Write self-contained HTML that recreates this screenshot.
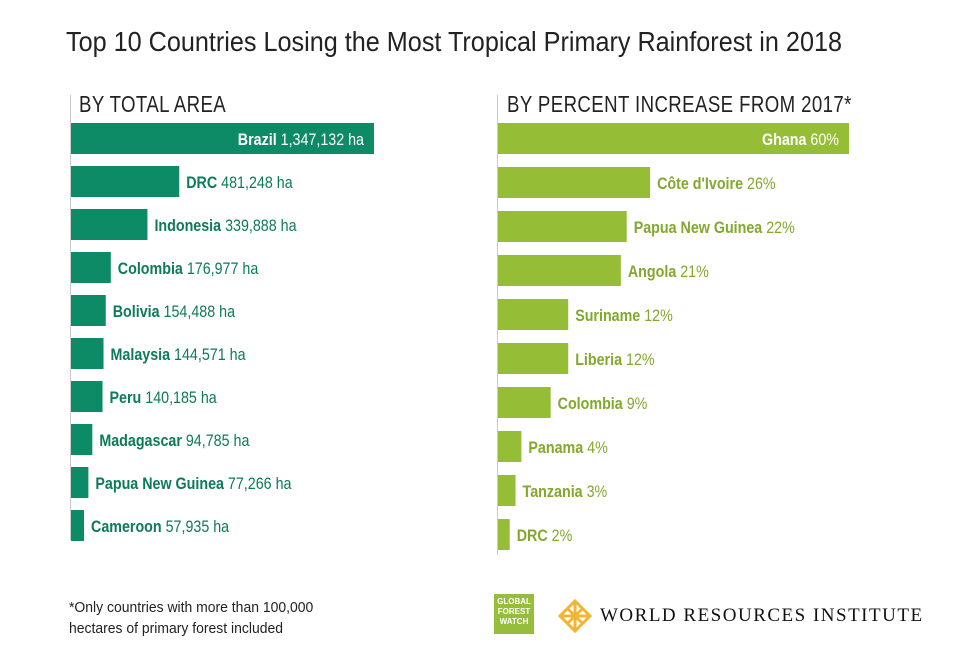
<!DOCTYPE html>
<html><head><meta charset="utf-8">
<style>
body{margin:0;background:#fff;width:980px;height:670px;overflow:hidden;position:relative;font-family:"Liberation Sans Narrow","Liberation Sans",sans-serif;}
.t{position:absolute;white-space:nowrap;transform-origin:0 0;}
</style></head><body>
<div class="t" style="left:66px;top:26px;font-size:28px;color:#222;transform:scaleX(0.9)">Top 10 Countries Losing the Most Tropical Primary Rainforest in 2018</div>
<div class="t" style="left:79px;top:91px;font-size:23px;color:#222;letter-spacing:0.5px;transform:scaleX(0.81)">BY TOTAL AREA</div>
<div class="t" style="left:507px;top:91px;font-size:23px;color:#222;letter-spacing:0.5px;transform:scaleX(0.81)">BY PERCENT INCREASE FROM 2017*</div>
<svg id="chart" width="980" height="670" style="position:absolute;left:0;top:0"></svg>
<div class="t" style="left:69px;top:597px;font-size:15px;color:#222;line-height:21px;transform:scaleX(0.93)">*Only countries with more than 100,000<br>hectares of primary forest included</div>
<div class="t" style="left:494px;top:594px;width:40px;height:40px;background:#97bd3d;color:#fff;font-size:8px;font-weight:bold;line-height:10px;text-align:center;padding-top:3px;box-sizing:border-box">GLOBAL<br>FOREST<br>WATCH</div>
<svg class="t" style="left:558px;top:599px" width="34" height="34" viewBox="0 0 34 34"><g fill="none" stroke="#f2b632" stroke-width="3"><path d="M17 2 L32 17 L17 32 L2 17Z"/><path d="M9.5 9.5 L24.5 24.5 M24.5 9.5 L9.5 24.5 M17 2 V32 M2 17 H32"/></g></svg>
<div class="t" style="left:600px;top:605px;font-family:'Liberation Serif',serif;font-size:19px;letter-spacing:1.5px;color:#111">WORLD RESOURCES INSTITUTE</div>
<script>
const leftNames=["Brazil","DRC","Indonesia","Colombia","Bolivia","Malaysia","Peru","Madagascar","Papua New Guinea","Cameroon"];
const leftValues=[1347132,481248,339888,176977,154488,144571,140185,94785,77266,57935];
const leftLabels=["1,347,132 ha","481,248 ha","339,888 ha","176,977 ha","154,488 ha","144,571 ha","140,185 ha","94,785 ha","77,266 ha","57,935 ha"];
const rightNames=["Ghana","Côte d'Ivoire","Papua New Guinea","Angola","Suriname","Liberia","Colombia","Panama","Tanzania","DRC"];
const rightValues=[60,26,22,21,12,12,9,4,3,2];
const rightLabels=["60%","26%","22%","21%","12%","12%","9%","4%","3%","2%"];
const svg=document.getElementById('chart');
const NS='http://www.w3.org/2000/svg';
function mk(t,a){const e=document.createElementNS(NS,t);for(const k in a)e.setAttribute(k,a[k]);svg.appendChild(e);return e;}
function panel(x0,axisTop,axisBot,top0,pitch,scale,names,vals,labels,color,dark,prefix){
  const ax=mk('line',{x1:x0-0.5,x2:x0-0.5,y1:axisTop,y2:axisBot,stroke:'#ccc','stroke-width':1});
  
  
  names.forEach((n,i)=>{
    const w=scale(vals[i]);const y=top0+i*pitch;
    const r=mk('rect',{x:x0,y:y,width:w,height:31,fill:color});
    
    
    const inside=i===0;
    const t=mk('text',{y:y+22,'font-size':17,fill:inside?'#fff':dark,'font-family':'"Liberation Sans Narrow","Liberation Sans",sans-serif'});
    if(inside){t.setAttribute('x',x0+w-10);t.setAttribute('text-anchor','end');}
    else t.setAttribute('x',x0+w+7);
    
    
    const b=document.createElementNS(NS,'tspan');b.setAttribute('font-weight','bold');b.textContent=n+' ';t.appendChild(b);
    const v=document.createElementNS(NS,'tspan');v.textContent=labels[i];t.appendChild(v);
    const L=t.getComputedTextLength();
    t.setAttribute('textLength',(L*0.84).toFixed(1));
    t.setAttribute('lengthAdjust','spacingAndGlyphs');
  });
}
panel(71,95,540,123,43,v=>v*303/1347132,leftNames,leftValues,leftLabels,'#0d8a66','#0d7a5a','area');
panel(498,95,555,123,44,v=>v*351/60,rightNames,rightValues,rightLabels,'#95bd36','#82a82c','percent');
</script>
</body></html>
